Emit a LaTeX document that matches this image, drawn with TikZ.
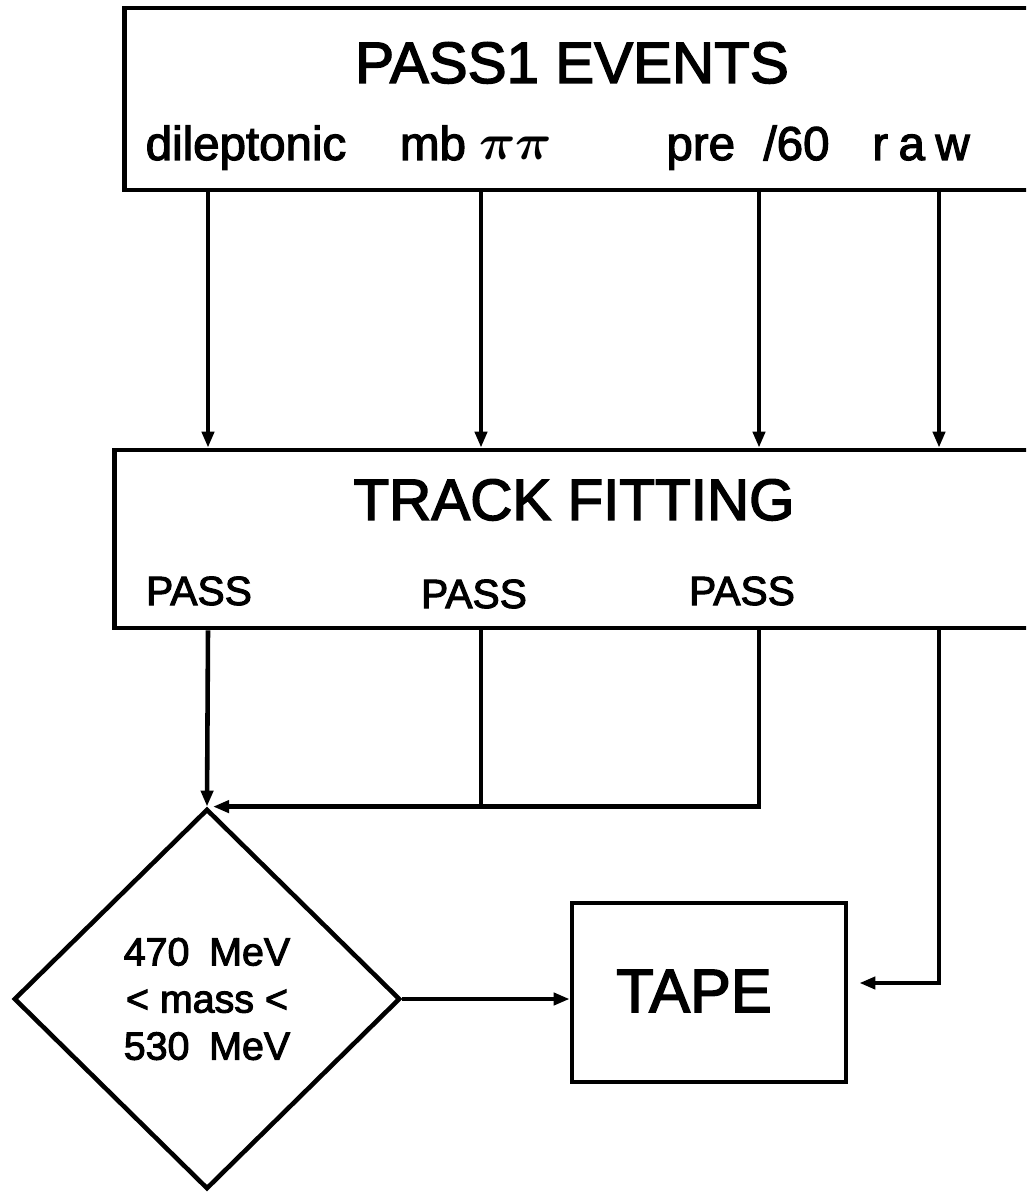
\documentclass[tikz,border=0pt]{standalone}
\usepackage{amsmath}
\usepackage{fontspec}
\setmainfont{Liberation Sans}[FakeBold=2.5]
\usetikzlibrary{shapes.geometric,arrows.meta}
\begin{document}
\begin{tikzpicture}[x=0.01cm,y=-0.01cm,
  line width=1.3pt,
  frame/.style={draw, rectangle, inner sep=0pt},
  arr/.style={-{Triangle[length=0.16cm,width=0.12cm]}},
  ttl/.style={anchor=base, inner sep=0pt, font=\fontsize{16.6}{20}\selectfont},
  rowlbl/.style={anchor=base, inner sep=0pt, font=\fontsize{13.5}{16}\selectfont},
  passlbl/.style={anchor=base, inner sep=0pt, font=\fontsize{11.6}{14}\selectfont},
  decision/.style={draw, diamond, inner sep=0pt, align=center, font=\fontsize{11.2}{13.4}\selectfont},
  bigtxt/.style={anchor=base, inner sep=0pt, font=\fontsize{17.4}{21}\selectfont}
]
\useasboundingbox (0,0) rectangle (1026,1192);
\clip (0,0) rectangle (1026,1192);
% top box
\node[frame, minimum width=9.21cm, minimum height=1.82cm] (events) at (585.5,99) {};
\node[ttl] (evtitle) at (572,83) {PASS1 EVENTS};
\node[rowlbl] (dil) at (246,160) {dileptonic};
\node[rowlbl] (mb) at (476,160) {mb $\boldsymbol{\pi\pi}$};
\node[rowlbl] (pre) at (748,160) {pre\hspace{0.6em}/60};
\node[rowlbl] (raw) at (921,160) {r\hspace{0.22em}a\hspace{0.22em}w};
% track fitting box
\node[frame, minimum width=9.31cm, minimum height=1.78cm] (track) at (580.5,539) {};
\node[ttl] (trtitle) at (574,520) {TRACK FITTING};
\node[passlbl] (p1) at (199,605) {PASS};
\node[passlbl] (p2) at (474,608) {PASS};
\node[passlbl] (p3) at (742,605) {PASS};
% decision
\node[decision, minimum width=3.86cm, minimum height=3.80cm] (cut) at (207,999)
  {470\hspace{0.5em}MeV\\< mass <\\530\hspace{0.5em}MeV};
% tape
\node[frame, minimum width=2.74cm, minimum height=1.79cm] (tape) at (709,992.5) {};
\node[bigtxt] (tapelbl) at (694,1012) {TAPE};
% connectors
\foreach \xx in {208,481,759,939}
  \draw[arr] (events.south -| \xx,0) -- (track.north -| \xx,0);
\draw[arr] (track.south -| 208,0) -- (cut.north);
\draw (track.south -| 481,0) -- (cut.north -| 481,0);
\draw[arr] (track.south -| 759,0) |- ([xshift=0.06cm]cut.north);
\draw[arr] (cut.east) -- (tape.west |- cut.east);
\draw[arr] (track.south -| 939,0) |- ([xshift=0.11cm,yshift=0.095cm]tape.east);
\end{tikzpicture}
\end{document}
